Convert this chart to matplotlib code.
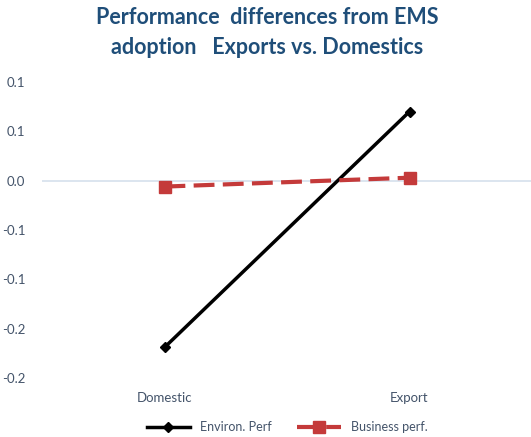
import matplotlib
matplotlib.use('Agg')
import matplotlib.pyplot as plt
from matplotlib.ticker import FuncFormatter
import math

categories = ['Domestic', 'Export']
environ_perf = [-0.169, 0.070]
business_perf = [-0.006, 0.003]
series_names = ['Environ. Perf', 'Business perf.']
title = 'Performance  differences from EMS\nadoption   Exports vs. Domestics'

plt.rcParams['font.family'] = ['Lato', 'DejaVu Sans']


def one_decimal(v, pos):
    # round half away from zero, like the spreadsheet does
    r = math.copysign(math.floor(abs(v) * 10 + 0.5 + 1e-9) / 10, v)
    if r == 0:
        return '0.0'
    return f'{r:.1f}'


fig = plt.figure(figsize=(5.31, 4.37), dpi=100)
ax = fig.add_axes([42 / 531, 1 - 378 / 437, 490 / 531, (378 - 82) / 437])

x = range(len(categories))
ax.plot(x, environ_perf, color='black', lw=2.5, marker='D', ms=5, label=series_names[0])
ax.plot(x, business_perf, color='#C43A3A', lw=3, ls=(0, (5, 2)), marker='s', ms=9,
        label=series_names[1])

ax.set_xlim(-0.5, 1.5)
ax.set_ylim(-0.2, 0.1)
ax.set_yticks([0.1, 0.05, 0.0, -0.05, -0.1, -0.15, -0.2])
ax.yaxis.set_major_formatter(FuncFormatter(one_decimal))
ax.set_xticks(list(x))
ax.set_xticklabels(categories)
ax.axhline(0, color='#D6E0EC', lw=1.2, zorder=0)

for s in ax.spines.values():
    s.set_visible(False)
ax.tick_params(length=0, colors='#44546A', labelsize=9.5)
ax.tick_params(axis='x', pad=10)
ax.tick_params(axis='y', pad=12)

fig.suptitle(title, x=0.503, y=0.983, fontsize=15.5, fontweight='bold', color='#1F4E79',
             linespacing=1.5)

ax.legend(loc='lower center', bbox_to_anchor=(0.5, -0.225), ncol=2, frameon=False,
          fontsize=9, labelcolor='#44546A', handlelength=3.5, columnspacing=2)

fig.savefig('out.png', dpi=100)
